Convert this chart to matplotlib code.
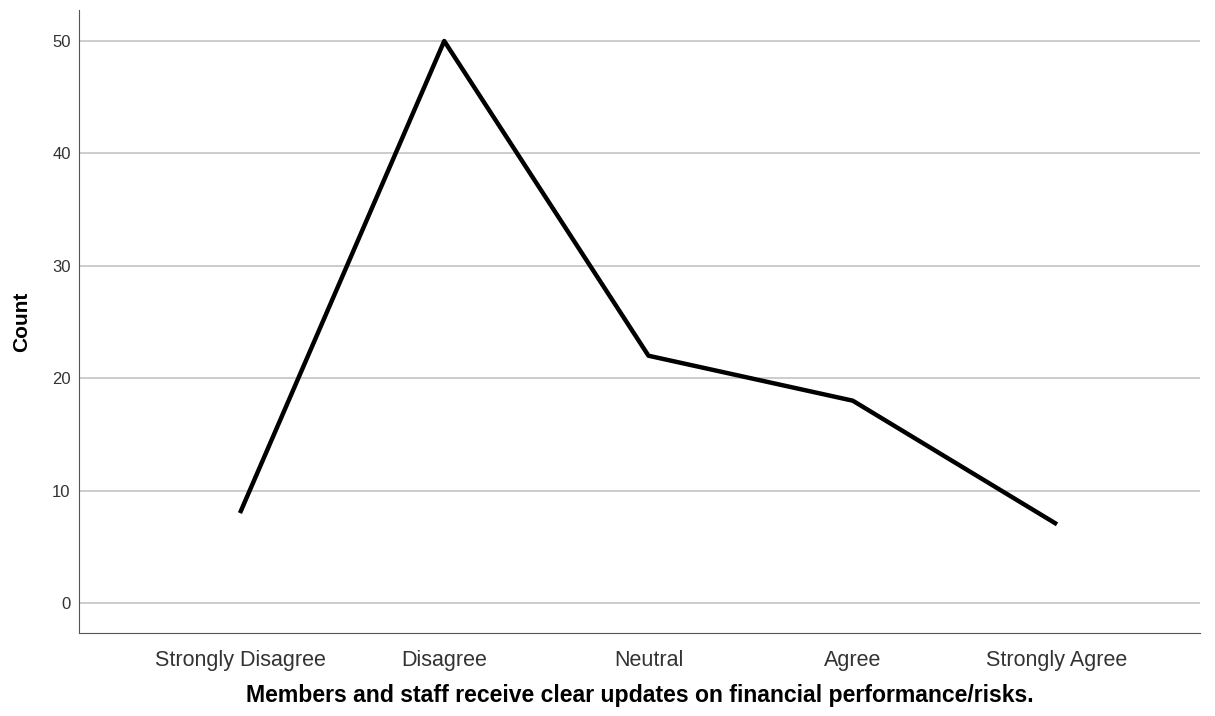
import numpy as np
import matplotlib.pyplot as plt

plt.rcParams['font.family'] = ['Liberation Sans', 'DejaVu Sans']

# Dados
categorias = ["Strongly Disagree", "Disagree", "Neutral", "Agree", "Strongly Agree"]
contagens = [8, 50, 22, 18, 7]
y_ticks = [0, 10, 20, 30, 40, 50]

x = np.arange(len(categorias))

fig = plt.figure(figsize=(12.15, 7.16), dpi=100)
ax = fig.add_axes([79/1215, 83/716, (1200-79)/1215, (633-10)/716])

# linhas de grade horizontais
for t in y_ticks:
    ax.axhline(t, color='#c8c8c8', linewidth=1.3, zorder=1)

ax.plot(x, contagens, color='black', linewidth=3.2, solid_capstyle='butt', zorder=3)

ax.set_xlim(-0.788, 4.70)
ax.set_ylim(-2.67, 52.76)
ax.set_xticks(x)
ax.set_xticklabels(categorias, fontsize=15.5, color='#333333')
ax.set_yticks(y_ticks)
ax.set_yticklabels([str(t) for t in y_ticks], fontsize=12, color='#333333')
ax.tick_params(axis='both', length=0)
ax.tick_params(axis='x', pad=12.5)
ax.tick_params(axis='y', pad=6)

ax.spines['top'].set_visible(False)
ax.spines['right'].set_visible(False)
ax.spines['left'].set_color('#555555')
ax.spines['bottom'].set_color('#555555')

ax.set_ylabel("Count", fontsize=15, fontweight='bold', labelpad=15)
ax.set_xlabel("Members and staff receive clear updates on financial performance/risks.",
              fontsize=16.6, fontweight='bold', labelpad=9)

plt.savefig("out.png", dpi=100)
